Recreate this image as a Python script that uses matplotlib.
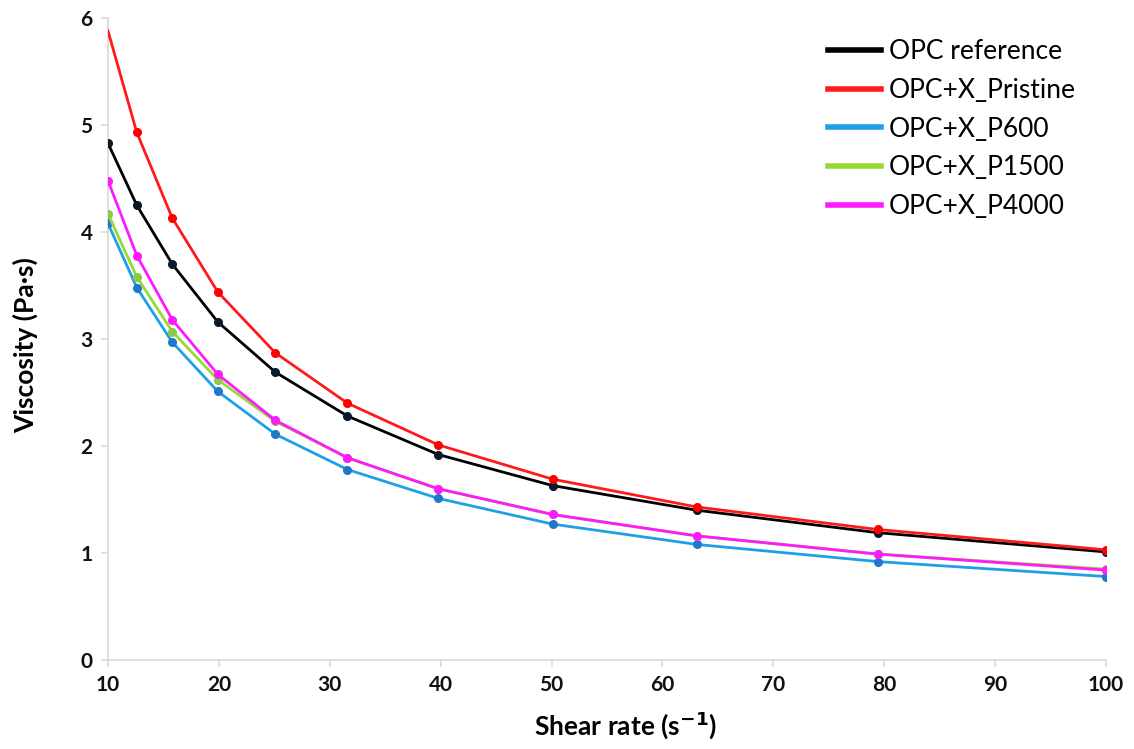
import matplotlib
matplotlib.use("Agg")
import matplotlib.pyplot as plt

# shear rate (1/s), log spaced points
shear_rate = [10, 12.6, 15.8, 19.9, 25.1, 31.6, 39.8, 50.1, 63.1, 79.4, 100]

opc_ref = [4.83, 4.25, 3.70, 3.16, 2.69, 2.28, 1.92, 1.63, 1.40, 1.19, 1.01]
opc_pristine = [5.88, 4.93, 4.13, 3.44, 2.87, 2.40, 2.01, 1.69, 1.43, 1.22, 1.03]
opc_p600 = [4.08, 3.48, 2.97, 2.51, 2.11, 1.78, 1.51, 1.27, 1.08, 0.92, 0.78]
opc_p1500 = [4.17, 3.58, 3.07, 2.62, 2.23, 1.89, 1.60, 1.36, 1.16, 0.99, 0.85]
opc_p4000 = [4.48, 3.78, 3.18, 2.67, 2.24, 1.89, 1.60, 1.36, 1.16, 0.99, 0.84]

labels = ["OPC reference", "OPC+X_Pristine", "OPC+X_P600", "OPC+X_P1500", "OPC+X_P4000"]
line_colors = ["#000000", "#ff1a1a", "#1fa0e6", "#99d933", "#ff19ff"]
marker_colors = ["#0a1a2a", "#ff0000", "#1f78c8", "#8acb4a", "#ff19ff"]

plt.rcParams['font.family'] = ['Lato', 'DejaVu Sans']

fig = plt.figure(figsize=(11.34, 7.49), dpi=100)
ax = fig.add_axes([0.0952, 0.1188, 0.8801, 0.8572])

series = [opc_ref, opc_pristine, opc_p600, opc_p1500, opc_p4000]
# draw order: green under magenta, black/red on top
order = [2, 3, 4, 0, 1]
for i in order:
    # red curve has no marker at the first point
    mev = slice(1, None) if i == 1 else None
    ax.plot(shear_rate, series[i], color=line_colors[i], lw=2.0,
            solid_joinstyle='round', marker='o', markersize=5.5,
            markerfacecolor=marker_colors[i], markeredgecolor=marker_colors[i],
            markevery=mev, zorder=3 + i)

# legend with plain lines
handles = [plt.Line2D([], [], color=c, lw=4) for c in line_colors]
ax.legend(handles, labels, loc='upper left', bbox_to_anchor=(0.7214, 0.967),
          frameon=False, fontsize=19, handlelength=2.0, handletextpad=0.3,
          labelspacing=0.52, borderpad=0, borderaxespad=0)

ax.set_xlim(10, 100)
ax.set_ylim(0, 6)
ax.set_xticks(range(10, 101, 10))
ax.set_yticks(range(0, 7))

for side in ['top', 'right']:
    ax.spines[side].set_visible(False)
for side in ['left', 'bottom']:
    ax.spines[side].set_color('#d9d9d9')
    ax.spines[side].set_linewidth(1.2)
ax.tick_params(axis='both', color='#d9d9d9', length=5, width=1.2,
               labelsize=15, labelcolor='#111111', pad=6)
for lab in ax.get_xticklabels() + ax.get_yticklabels():
    lab.set_fontweight('bold')

ax.set_xlabel('Shear rate (s$^{\\mathbf{-1}}$)', fontsize=19, fontweight='bold')
ax.set_ylabel('Viscosity (Pa\u00b7s)', fontsize=19, fontweight='bold')
ax.xaxis.set_label_coords(0.519, -0.101)
ax.xaxis.label.set_va('center')
ax.yaxis.set_label_coords(-0.083, 0.49)
ax.yaxis.label.set_va('center')

fig.savefig('out.png', dpi=100)
plt.close(fig)
